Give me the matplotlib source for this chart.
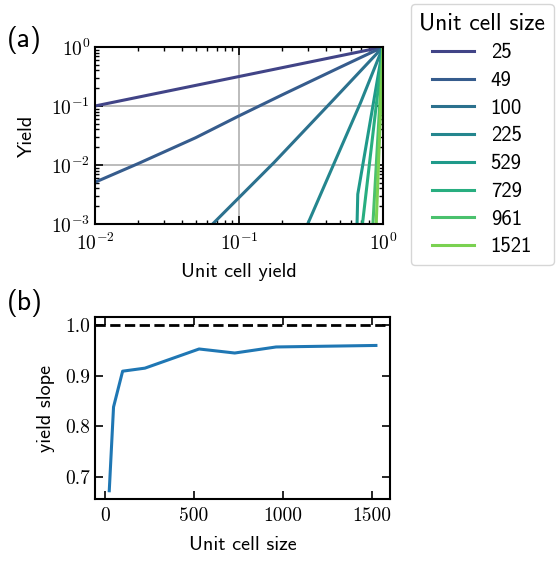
import matplotlib
matplotlib.use("Agg")
import matplotlib.pyplot as plt
import numpy as np

# unit cell sizes shown in both panels
cell_sizes = [25, 49, 100, 225, 529, 729, 961, 1521]

# panel (a): system yield vs unit cell yield, one curve per unit cell size
uc_yield_25 = [0.01, 0.1, 1.0]
yield_25 = [0.1, 0.316, 1.0]
uc_yield_49 = [0.01, 0.02, 0.05, 0.1, 0.2, 0.5, 1.0]
yield_49 = [0.0051, 0.0106, 0.029, 0.068, 0.155, 0.45, 1.0]
uc_yield_100 = [0.05, 0.0656, 0.175, 0.435, 1.0]
yield_100 = [0.0005, 0.001, 0.011, 0.115, 1.0]
uc_yield_225 = [0.25, 0.30, 0.46, 0.70, 1.0]
yield_225 = [0.0004, 0.001, 0.011, 0.115, 1.0]
uc_yield_529 = [0.65, 0.668, 1.0]
yield_529 = [0.0002, 0.0032, 1.0]
uc_yield_729 = [0.72, 1.0]
yield_729 = [0.001, 1.0]
uc_yield_961 = [0.851, 1.0]
yield_961 = [0.001, 1.0]
uc_yield_1521 = [0.897, 1.0]
yield_1521 = [0.001, 1.0]

curves_x = [uc_yield_25, uc_yield_49, uc_yield_100, uc_yield_225,
            uc_yield_529, uc_yield_729, uc_yield_961, uc_yield_1521]
curves_y = [yield_25, yield_49, yield_100, yield_225,
            yield_529, yield_729, yield_961, yield_1521]

# panel (b): fitted yield slope per unit cell size
yield_slope = [0.672, 0.838, 0.909, 0.915, 0.953, 0.945, 0.957, 0.960]

plt.rcParams.update({
    "font.family": "cmss10",
    "mathtext.fontset": "cm",
    "axes.linewidth": 1.5,
    "xtick.direction": "in",
    "ytick.direction": "in",
    "xtick.top": True,
    "ytick.right": True,
    "xtick.major.size": 5.5,
    "ytick.major.size": 5.5,
    "xtick.minor.size": 3,
    "ytick.minor.size": 3,
    "xtick.major.width": 1.2,
    "ytick.major.width": 1.2,
    "xtick.minor.width": 1.0,
    "ytick.minor.width": 1.0,
})

W, H = 558, 561
fig = plt.figure(figsize=(W / 100, H / 100), dpi=100)


def px_axes(left, top, right, bottom):
    return fig.add_axes([left / W, 1 - bottom / H, (right - left) / W, (bottom - top) / H])


ax_a = px_axes(95, 47, 383, 224)
ax_b = px_axes(95, 317, 390, 499)

colors = plt.cm.viridis(np.linspace(0.2, 0.8, len(cell_sizes)))
for xs, ys, n, c in zip(curves_x, curves_y, cell_sizes, colors):
    ax_a.plot(xs, ys, color=c, lw=2.2, label=str(n))

ax_a.set_xscale("log")
ax_a.set_yscale("log")
ax_a.set_xlim(0.01, 1.0)
ax_a.set_ylim(1e-3, 1.0)
ax_a.grid(True, which="major", color="#b0b0b0", lw=1.2)
ax_a.set_xlabel("Unit cell yield", fontsize=14.5, labelpad=6)
ax_a.set_ylabel("Yield", fontsize=14.5, labelpad=11)
ax_a.tick_params(which="both", labelsize=14, labelfontfamily="cmr10")
ax_a.tick_params(axis="x", which="both", pad=6.5)

ax_a.legend(title="Unit cell size", loc="upper left",
            bbox_to_anchor=(411 / W, 1 - 4 / H), bbox_transform=fig.transFigure,
            fontsize=15, title_fontsize=17, borderaxespad=0, labelspacing=0.42)

ax_b.plot(cell_sizes, yield_slope, color="#1f77b4", lw=2.2)
ax_b.axhline(1.0, color="black", ls="--", lw=2)
lo, hi = min(yield_slope), 1.0
pad = 0.05 * (hi - lo)
ax_b.set_ylim(lo - pad, hi + pad)
ax_b.set_xlim(-55, 1600)
ax_b.set_xticks([0, 500, 1000, 1500])
ax_b.set_yticks([0.7, 0.8, 0.9, 1.0])
ax_b.set_xlabel("Unit cell size", fontsize=14.5, labelpad=8)
ax_b.set_ylabel("yield slope", fontsize=14.5, labelpad=7)
ax_b.tick_params(labelsize=14, labelfontfamily="cmr10")
ax_b.tick_params(axis="x", pad=6)

fig.text(7 / W, 1 - 40 / H, "(a)", fontsize=20, va="center")
fig.text(7 / W, 1 - 303 / H, "(b)", fontsize=20, va="center")

fig.savefig("out.png", dpi=100)
